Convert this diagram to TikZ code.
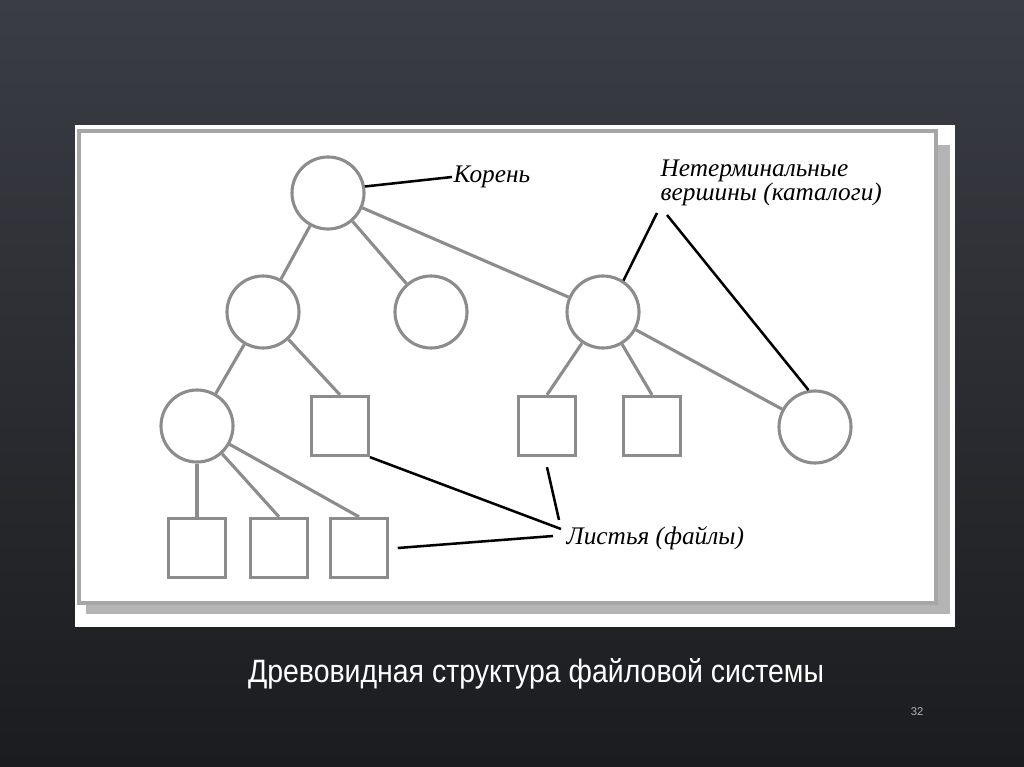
\documentclass[tikz,border=0pt]{standalone}
\usepackage{graphicx}
\usepackage{fontspec}
\setmainfont{Liberation Serif}
\newfontfamily\capfont{Liberation Sans}
\definecolor{bgtop}{RGB}{58,61,68}
\definecolor{bgbot}{RGB}{27,28,31}
\definecolor{edge}{RGB}{140,140,140}
\definecolor{shadow}{RGB}{180,180,180}
\tikzset{
  dir/.style={circle,draw=edge,line width=2.2pt,minimum size=1.8cm,inner sep=0pt},
  file/.style={rectangle,draw=edge,line width=2.2pt,minimum width=1.42cm,minimum height=1.48cm,inner sep=0pt},
  branch/.style={draw=edge,line width=2.2pt},
  pointer/.style={draw=black,line width=1.8pt},
  lbl/.style={font=\itshape\fontsize{18}{17}\selectfont,inner sep=1pt}
}
\begin{document}
\begin{tikzpicture}[x=0.025cm,y=-0.025cm]
    \useasboundingbox (0,0) rectangle (1024,767);
    \shade[top color=bgtop,bottom color=bgbot] (0,0) rectangle (1024,767);

    % panel with frame and shadow
    \fill[white] (75,125) rectangle (955,627);
    \fill[shadow] (86,145) rectangle (950,614);
    \draw[fill=white,draw=gray!70,line width=2.5pt] (79,131) rectangle (936,603);

    % directories
    \node[dir] (root) at (328,193) {};
    \node[dir] (a) at (263,312) {};
    \node[dir] (b) at (431,312) {};
    \node[dir] (c) at (603,312) {};
    \node[dir] (d) at (197,426) {};
    \node[dir] (e) at (815,427) {};

    % files
    \node[file] (s1) at (340,426) {};
    \node[file] (s2) at (547,426) {};
    \node[file] (s3) at (652,426) {};
    \foreach \x [count=\i] in {197,279,359}{
      \node[file] (f\i) at (\x,548) {};
    }

    \foreach \p/\q in {root/a,root/b,root/c,a/d,c/e}{
      \draw[branch] (\p) -- (\q);
    }
    \foreach \p/\q in {a/s1,c/s2,c/s3,d/f1,d/f2,d/f3}{
      \draw[branch] (\p) -- (\q.north);
    }

    % labels
    \node[lbl,anchor=west] (koren) at (452,177) {Корень};
    \node[lbl,anchor=north west,align=left] (nonterm) at (659,158) {Нетерминальные\\вершины (каталоги)};
    \node[lbl,anchor=west] (leaves) at (565,538) {Листья (файлы)};

    \coordinate (nt1) at (657,213);
    \coordinate (nt2) at (667,215);
    \coordinate (lv1) at (561,529);
    \coordinate (lv2) at (559,520);
    \coordinate (lv3) at (553,536);

    \draw[pointer] (root.10) -- (koren.west);
    \draw[pointer] (nt1) -- (c.57);
    \draw[pointer] (nt2) -- (e.100);
    \draw[pointer] (s1.south east) -- (lv1);
    \draw[pointer] ([yshift=-0.25cm]s2.south) -- (lv2);
    \draw[pointer] ([xshift=0.22cm]f3.east) -- (lv3);

    \node[font=\capfont\fontsize{23}{23}\selectfont,text=white] (caption) at (536,674)
      {\scalebox{0.88}[1]{Древовидная структура файловой системы}};
    \node[font=\capfont\fontsize{8}{8}\selectfont,text=gray!60] (pnum) at (917,712) {32};
\end{tikzpicture}
\end{document}
